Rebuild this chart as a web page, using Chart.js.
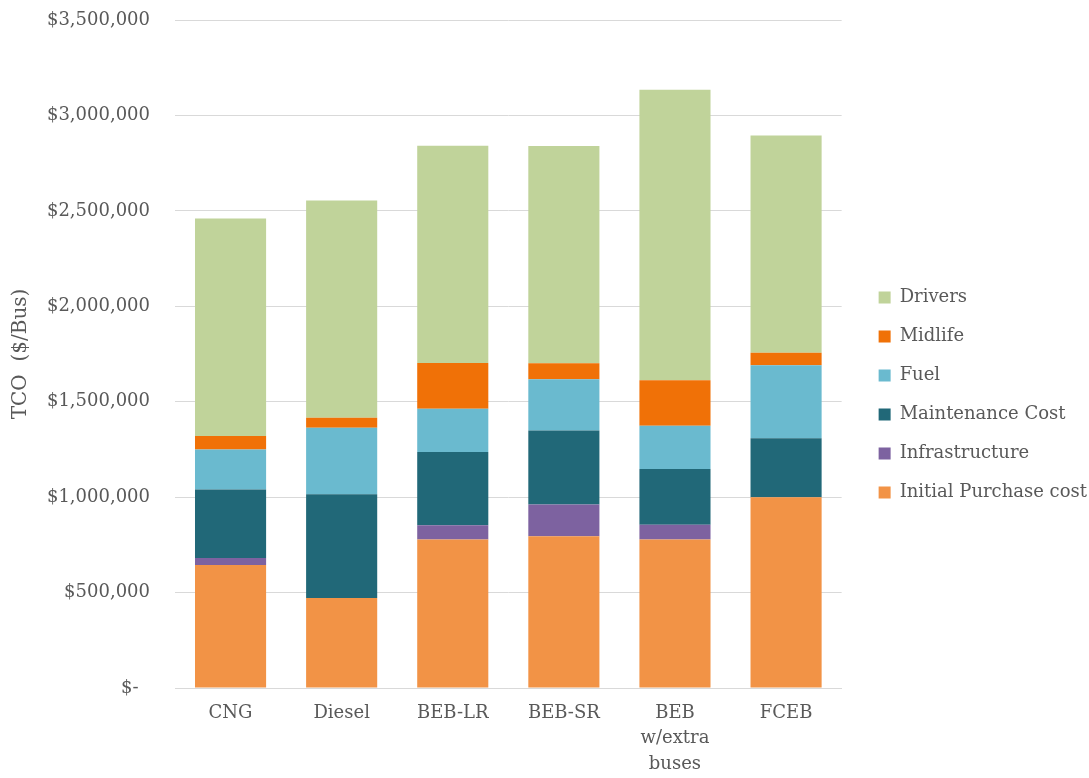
<!DOCTYPE html>
<html><head><meta charset="utf-8">
<script src="https://cdn.jsdelivr.net/npm/chart.js@4"></script>
<style>html,body{margin:0;padding:0;background:#fff}canvas{display:block}</style>
</head><body>
<canvas id="c" width="1089" height="778"></canvas>
<script>
const categories = ['CNG', 'Diesel', 'BEB-LR', 'BEB-SR', ['BEB', 'w/extra', 'buses'], 'FCEB'];
const seriesNames = ['Initial Purchase cost', 'Infrastructure', 'Maintenance Cost', 'Fuel', 'Midlife', 'Drivers'];
const purchase = [645000, 471000, 778000, 795000, 778000, 1000000];
const infrastructure = [36000, 0, 75000, 166000, 77000, 0];
const maintenance = [359000, 544000, 383000, 388000, 292000, 308000];
const fuel = [210000, 348000, 227000, 269000, 227000, 383000];
const midlife = [71000, 53000, 240000, 84000, 238000, 65000];
const drivers = [1139000, 1138000, 1138000, 1138000, 1523000, 1139000];
const yMax = 3500000;
const yStep = 500000;

const colors = ['#f29346', '#7d62a0', '#216878', '#6abacf', '#f07107', '#c0d39a'];
const seriesData = [purchase, infrastructure, maintenance, fuel, midlife, drivers];

const datasets = seriesNames.map((name, i) => ({
  label: name,
  data: seriesData[i],
  backgroundColor: colors[i],
  borderWidth: 0,
  barPercentage: 0.64,
  categoryPercentage: 1.0
}));

const legendGap = 37;
const legendRaise = 4;
const legendShift = {
  id: 'legendShift',
  afterLayout(chart) {
    const lg = chart.legend;
    if (!lg) return;
    const pad = lg.options.labels.padding;
    const dx = chart.chartArea.right + legendGap - (lg.left + pad);
    lg.left += dx; lg.right += dx;
    lg.top -= legendRaise; lg.bottom -= legendRaise;
  }
};

const gray = '#595959';
new Chart(document.getElementById('c'), {
  type: 'bar',
  data: { labels: categories, datasets },
  plugins: [legendShift],
  options: {
    responsive: false,
    animation: false,
    devicePixelRatio: 1,
    layout: { padding: { top: 20, right: 8, bottom: 0, left: 0 } },
    plugins: {
      tooltip: { enabled: false },
      legend: {
        position: 'right',
        reverse: true,
        labels: {
          boxWidth: 12, boxHeight: 12, padding: 21,
          color: gray,
          font: { family: 'DejaVu Serif', size: 18 }
        }
      }
    },
    scales: {
      x: {
        stacked: true,
        afterFit: (s) => { s.height = 90; },
        grid: { display: false },
        border: { color: '#d9d9d9', width: 1 },
        ticks: {
          color: gray, padding: 5, maxRotation: 0, autoSkip: false,
          font: { family: 'DejaVu Serif', size: 18, lineHeight: 1.4 }
        }
      },
      y: {
        stacked: true,
        min: 0, max: yMax,
        afterFit: (s) => { s.width = 175; s.paddingTop = 0; s.paddingBottom = 0; },
        grid: { color: '#d9d9d9', lineWidth: 1, drawTicks: false },
        border: { display: false },
        ticks: {
          stepSize: yStep, color: gray, padding: 25,
          font: { family: 'DejaVu Serif', size: 18 },
          callback: (v) => v === 0 ? '$-  ' : '$' + v.toLocaleString('en-US')
        },
        title: {
          display: true, text: 'TCO  ($/Bus)', color: gray,
          padding: { top: 9, bottom: 0 },
          font: { family: 'DejaVu Serif', size: 20 }
        }
      }
    }
  }
});
</script>
</body></html>
